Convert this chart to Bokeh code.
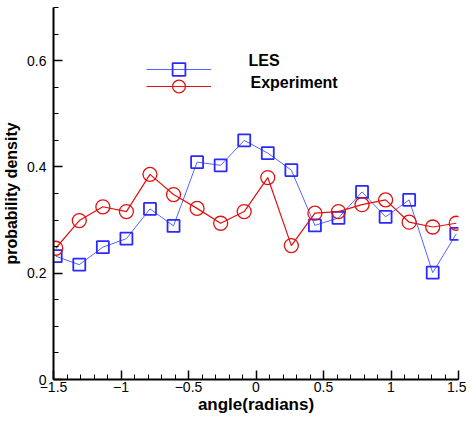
import numpy as np
from bokeh.plotting import figure
from bokeh.models import Range1d, FixedTicker, Legend, LegendItem, Label
from bokeh.embed import file_html
from bokeh.resources import INLINE

# angles (radians): -85 deg .. 85 deg in 10 deg steps
angle_deg = [-85, -75, -65, -55, -45, -35, -25, -15, -5, 5, 15, 25, 35, 45, 55, 65, 75, 85]
les = [0.232, 0.216, 0.249, 0.265, 0.321, 0.289, 0.409, 0.403, 0.450, 0.426,
       0.394, 0.290, 0.304, 0.353, 0.306, 0.338, 0.201, 0.274]
experiment = [0.247, 0.299, 0.325, 0.316, 0.386, 0.348, 0.322, 0.294, 0.316, 0.380,
              0.252, 0.313, 0.316, 0.329, 0.338, 0.296, 0.287, 0.294]
x_ticks = [-1.5, -1, -0.5, 0, 0.5, 1, 1.5]
y_ticks = [0, 0.2, 0.4, 0.6]
series_names = ["LES", "Experiment"]

x = [np.deg2rad(a) for a in angle_deg]

FONT = "Liberation Sans"

p = figure(width=466, height=416, output_backend="svg", toolbar_location=None,
           x_range=Range1d(-1.5, 1.5), y_range=Range1d(0, 0.7),
           min_border_left=53, min_border_right=8, min_border_top=7, min_border_bottom=37)
p.outline_line_color = None
p.grid.visible = False
p.background_fill_color = "white"

blue_line = "#5565ff"
blue_mark = "#2a2aff"
red = "#e01010"

l1 = p.line(x, les, line_color=blue_line, line_width=1)
s1 = p.scatter(x, les, marker="square", size=12, line_color=blue_mark, line_width=1.8,
               fill_color=None)
l2 = p.line(x, experiment, line_color=red, line_width=1.2)
s2 = p.scatter(x, experiment, marker="circle", size=14, line_color=red, line_width=1.3,
               fill_color=None)

for ax in (p.xaxis[0], p.yaxis[0]):
    ax.axis_line_width = 2
    ax.axis_line_color = "black"
    ax.major_tick_line_width = 1.5
    ax.minor_tick_line_width = 1
    ax.major_tick_in = 9
    ax.major_tick_out = 0
    ax.minor_tick_in = 5
    ax.minor_tick_out = 0
    ax.major_label_text_font = FONT
    ax.major_label_text_font_size = "14px"
    ax.major_label_text_color = "black"
    ax.axis_label_text_font = FONT
    ax.axis_label_text_font_style = "bold"
    ax.axis_label_text_color = "black"

p.xaxis.ticker = FixedTicker(ticks=x_ticks, minor_ticks=[round(-1.5 + 0.1 * i, 2) for i in range(31)])
p.yaxis.ticker = FixedTicker(ticks=y_ticks, minor_ticks=[round(0.05 * i, 2) for i in range(15)])
p.xaxis.axis_label = "angle(radians)"
p.yaxis.axis_label = "probability density"
p.xaxis.axis_label_text_font_size = "17px"
p.yaxis.axis_label_text_font_size = "16px"
p.xaxis.major_label_standoff = 2
p.xaxis.axis_label_standoff = 0
p.yaxis.major_label_standoff = 7
p.yaxis.axis_label_standoff = 4


def legend_box(renderers, loc):
    return Legend(items=[LegendItem(label=" ", renderers=renderers)],
                  location=loc, padding=0, margin=0, spacing=0,
                  glyph_width=65, glyph_height=32, label_height=32, label_standoff=0,
                  label_text_font_size="1px",
                  border_line_color=None, background_fill_alpha=0)


p.add_layout(legend_box([l1, s1], (93, 294)))
p.add_layout(legend_box([l2, s2], (93, 277)))

# legend texts, placed in screen px relative to the plot frame
for name, sx, sy in zip(series_names, [195, 197], [319, 297]):
    p.add_layout(Label(x=sx, y=sy, x_units="screen", y_units="screen", text=name,
                       text_font=FONT, text_font_style="bold", text_font_size="16px",
                       text_color="black", text_baseline="alphabetic", text_align="left"))

open("out.html", "w").write(file_html(p, INLINE))
